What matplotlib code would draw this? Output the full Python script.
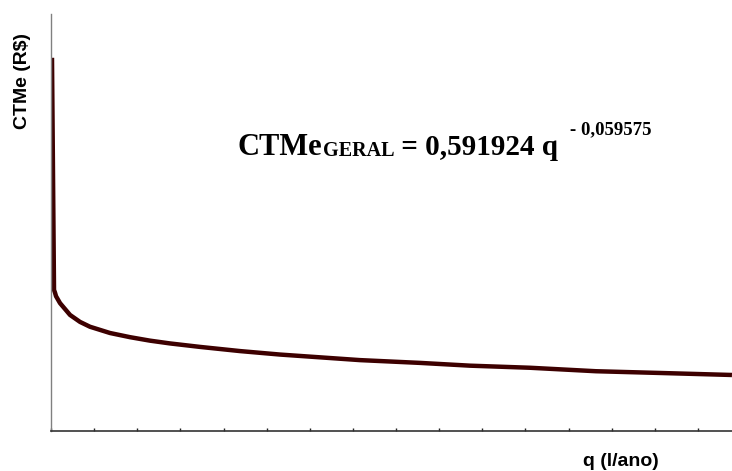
import numpy as np
import matplotlib
matplotlib.use('Agg')
import matplotlib.pyplot as plt
from matplotlib.ticker import MultipleLocator

# curve (q in tick units, CTMe in arbitrary R$ units)
q_vals = [0.023, 0.070, 0.093, 0.116, 0.209, 0.441, 0.672, 0.904, 1.368, 1.832,
          2.295, 2.759, 3.455, 4.382, 5.309, 6.237, 7.164, 8.556, 9.715, 11.106,
          12.636, 14.120, 15.789]
ctme_vals = [0.537, 0.203, 0.199, 0.194, 0.184, 0.167, 0.157, 0.150, 0.141, 0.135,
             0.130, 0.126, 0.121, 0.115, 0.110, 0.106, 0.102, 0.098, 0.094, 0.091,
             0.086, 0.0835, 0.0806]

x_label = 'q (l/ano)'
y_label = 'CTMe (R$)'
eq_main = 'CTMe'
eq_sub = 'GERAL'
eq_mid = ' = 0,591924 q '
eq_sup = '- 0,059575'

W, H = 732, 471
fig = plt.figure(figsize=(W / 100, H / 100), dpi=100)
ax = fig.add_axes([51 / W, 1 - 431 / H, 1 - 51 / W, (431 - 14) / H])

ax.plot(q_vals, ctme_vals, color='#3d0000', lw=3.2, solid_capstyle='butt',
        solid_joinstyle='round')

ax.set_xlim(0, 15.79)
ax.set_ylim(0, 0.6)
ax.xaxis.set_major_locator(MultipleLocator(1))
ax.set_xticklabels([])
ax.set_yticks([])
ax.tick_params(axis='x', direction='in', length=2.5, width=1, color='#222222')

for s in ['top', 'right']:
    ax.spines[s].set_visible(False)
ax.spines['left'].set_color('#808080')
ax.spines['left'].set_linewidth(1.0)
ax.spines['bottom'].set_color('#333333')
ax.spines['bottom'].set_linewidth(1.2)

sans = ['Liberation Sans', 'DejaVu Sans']
fig.text(621 / W, 1 - 461 / H, x_label, ha='center', va='center',
         fontsize=14, fontweight='bold', family=sans)
fig.text(23 / W, 1 - 81 / H, y_label, ha='center', va='center', rotation=90,
         fontsize=14, fontweight='bold', family=sans)

# equation built piece by piece
serif = ['Liberation Serif', 'DejaVu Serif']
fig.canvas.draw()
r = fig.canvas.get_renderer()

def put(x, y, s, size):
    t = fig.text(x / W, 1 - y / H, s, ha='left', va='baseline', fontsize=size,
                 fontweight='bold', family=serif)
    bb = t.get_window_extent(renderer=r)
    return bb.x1

x = put(238, 155, eq_main, 22)
x = put(x, 156, eq_sub, 14.5)
x = put(x, 155, eq_mid, 21)
put(x + 5, 134, eq_sup, 13.5)

fig.savefig('out.png', dpi=100)
